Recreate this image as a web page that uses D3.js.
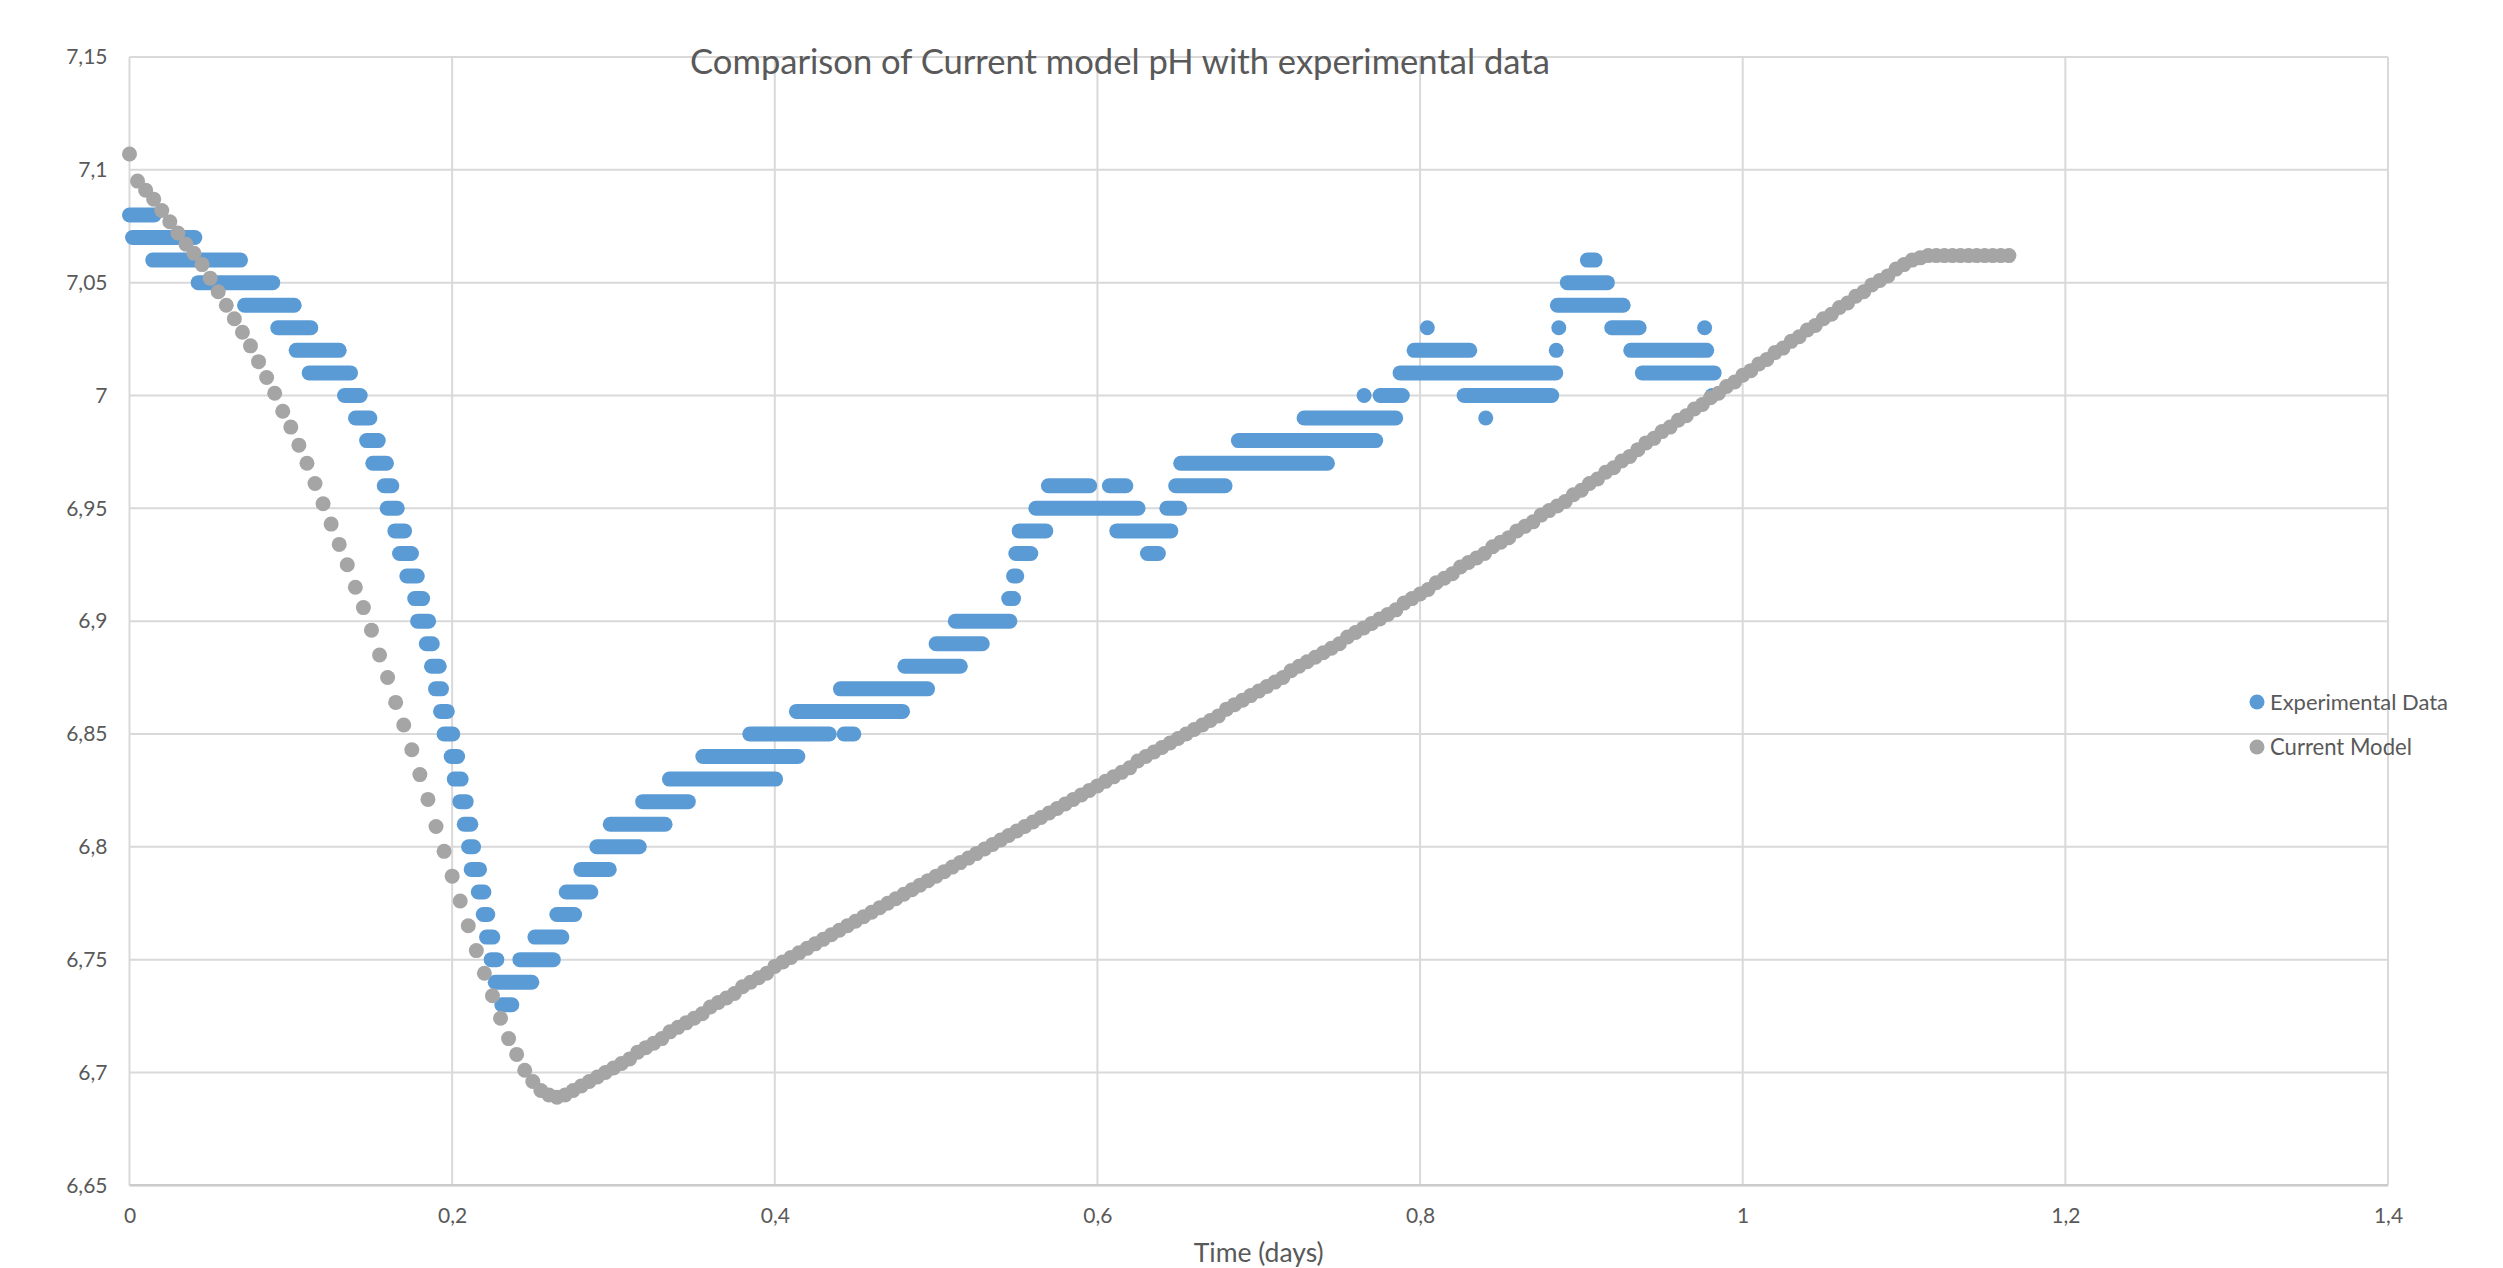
<!DOCTYPE html>
<html>
<head>
<meta charset="utf-8">
<script src="https://cdn.jsdelivr.net/npm/d3@7"></script>
<style>
  body { margin: 0; background: #fff; }
  svg text { font-family: Lato, "Open Sans", sans-serif; fill: #595959; }
</style>
</head>
<body>
<svg id="chart" width="2503" height="1268"></svg>
<script>
const chartTitle = "Comparison of Current model pH with experimental data";
const xAxisTitle = "Time (days)";
const seriesNames = ["Experimental Data", "Current Model"];
const seriesColors = ["#5b9bd5", "#a5a5a5"];

const xTicks = [0, 0.2, 0.4, 0.6, 0.8, 1, 1.2, 1.4];
const xTickLabels = ["0", "0,2", "0,4", "0,6", "0,8", "1", "1,2", "1,4"];
const yTicks = [6.65, 6.7, 6.75, 6.8, 6.85, 6.9, 6.95, 7, 7.05, 7.1, 7.15];
const yTickLabels = ["6,65", "6,7", "6,75", "6,8", "6,85", "6,9", "6,95", "7", "7,05", "7,1", "7,15"];

// probe logs pH in 0.01 steps, so readings pile up in runs: [first t, last t, pH]
const expRuns = [
  [0.0000, 0.0153, 7.08], [0.0019, 0.0405, 7.07], [0.0144, 0.0688, 7.06],
  [0.0426, 0.0888, 7.05], [0.0713, 0.1021, 7.04], [0.0919, 0.1124, 7.03],
  [0.1033, 0.1300, 7.02], [0.1114, 0.1370, 7.01], [0.1333, 0.1430, 7.00],
  [0.1401, 0.1490, 6.99], [0.1470, 0.1542, 6.98], [0.1508, 0.1593, 6.97],
  [0.1579, 0.1626, 6.96], [0.1597, 0.1660, 6.95], [0.1645, 0.1705, 6.94],
  [0.1674, 0.1748, 6.93], [0.1719, 0.1784, 6.92], [0.1768, 0.1817, 6.91],
  [0.1786, 0.1854, 6.90], [0.1840, 0.1877, 6.89], [0.1872, 0.1920, 6.88],
  [0.1897, 0.1934, 6.87], [0.1928, 0.1970, 6.86], [0.1950, 0.2004, 6.85],
  [0.1994, 0.2034, 6.84], [0.2013, 0.2056, 6.83], [0.2048, 0.2087, 6.82],
  [0.2075, 0.2116, 6.81], [0.2102, 0.2133, 6.80], [0.2118, 0.2170, 6.79],
  [0.2162, 0.2197, 6.78], [0.2193, 0.2221, 6.77], [0.2213, 0.2252, 6.76],
  [0.2242, 0.2277, 6.75], [0.2267, 0.2494, 6.74], [0.2308, 0.2370, 6.73],
  // recovery
  [0.2420, 0.2627, 6.75], [0.2513, 0.2680, 6.76], [0.2649, 0.2759, 6.77],
  [0.2707, 0.2860, 6.78], [0.2798, 0.2974, 6.79], [0.2897, 0.3160, 6.80],
  [0.2980, 0.3320, 6.81], [0.3181, 0.3464, 6.82], [0.3347, 0.4005, 6.83],
  [0.3554, 0.4143, 6.84], [0.3845, 0.4338, 6.85], [0.4430, 0.4490, 6.85],
  [0.4134, 0.4792, 6.86], [0.4407, 0.4947, 6.87], [0.4806, 0.5150, 6.88],
  [0.5000, 0.5286, 6.89], [0.5119, 0.5457, 6.90], [0.5450, 0.5480, 6.91],
  [0.5480, 0.5500, 6.92], [0.5494, 0.5587, 6.93], [0.5515, 0.5680, 6.94],
  [0.5618, 0.6252, 6.95], [0.5696, 0.5952, 6.96], [0.6074, 0.6176, 6.96],
  [0.6120, 0.6455, 6.94], [0.6310, 0.6378, 6.93], [0.6430, 0.6510, 6.95],
  [0.6485, 0.6791, 6.96], [0.6516, 0.7426, 6.97], [0.6874, 0.7725, 6.98],
  [0.7281, 0.7849, 6.99], [0.7653, 0.7653, 7.00], [0.7752, 0.7890, 7.00],
  [0.7876, 0.8841, 7.01], [0.7963, 0.8308, 7.02], [0.8045, 0.8045, 7.03],
  [0.8273, 0.8816, 7.00], [0.8407, 0.8407, 6.99], [0.8844, 0.8844, 7.02],
  [0.8860, 0.8860, 7.03], [0.8851, 0.9259, 7.04], [0.8913, 0.9161, 7.05],
  [0.9037, 0.9085, 7.06], [0.9188, 0.9358, 7.03], [0.9306, 0.9777, 7.02],
  [0.9378, 0.9823, 7.01], [0.9764, 0.9764, 7.03], [0.9810, 0.9810, 7.00]
];

// model output, one value every 0.005 days from t = 0
const modelStep = 0.005;
const modelPH = [
  7.107, 7.095, 7.091, 7.087, 7.082, 7.077, 7.072, 7.067, 7.063, 7.058,
  7.052, 7.046, 7.040, 7.034, 7.028, 7.022, 7.015, 7.008, 7.001, 6.993,
  6.986, 6.978, 6.970, 6.961, 6.952, 6.943, 6.934, 6.925, 6.915, 6.906,
  6.896, 6.885, 6.875, 6.864, 6.854, 6.843, 6.832, 6.821, 6.809, 6.798,
  6.787, 6.776, 6.765, 6.754, 6.744, 6.734, 6.724, 6.715, 6.708, 6.701,
  6.696, 6.692, 6.690, 6.689, 6.690, 6.692, 6.694, 6.696, 6.698, 6.700,
  6.702, 6.704, 6.706, 6.709, 6.711, 6.713, 6.715, 6.718, 6.720, 6.722,
  6.724, 6.726, 6.729, 6.731, 6.733, 6.735, 6.738, 6.740, 6.742, 6.744,
  6.747, 6.749, 6.751, 6.753, 6.755, 6.757, 6.759, 6.761, 6.763, 6.765,
  6.767, 6.769, 6.771, 6.773, 6.775, 6.777, 6.779, 6.781, 6.783, 6.785,
  6.787, 6.789, 6.791, 6.793, 6.795, 6.797, 6.799, 6.801, 6.803, 6.805,
  6.807, 6.809, 6.811, 6.813, 6.815, 6.817, 6.819, 6.821, 6.823, 6.825,
  6.827, 6.829, 6.831, 6.833, 6.835, 6.838, 6.840, 6.842, 6.844, 6.846,
  6.848, 6.850, 6.852, 6.854, 6.856, 6.858, 6.861, 6.863, 6.865, 6.867,
  6.869, 6.871, 6.873, 6.875, 6.878, 6.880, 6.882, 6.884, 6.886, 6.888,
  6.890, 6.893, 6.895, 6.897, 6.899, 6.901, 6.903, 6.905, 6.908, 6.910,
  6.912, 6.914, 6.917, 6.919, 6.921, 6.924, 6.926, 6.928, 6.930, 6.933,
  6.935, 6.937, 6.940, 6.942, 6.944, 6.947, 6.949, 6.951, 6.953, 6.956,
  6.958, 6.961, 6.963, 6.966, 6.968, 6.971, 6.973, 6.976, 6.979, 6.981,
  6.984, 6.986, 6.989, 6.991, 6.994, 6.996, 6.999, 7.001, 7.004, 7.006,
  7.009, 7.011, 7.014, 7.016, 7.019, 7.021, 7.024, 7.026, 7.029, 7.031,
  7.034, 7.036, 7.039, 7.041, 7.044, 7.046, 7.049, 7.051, 7.053, 7.056,
  7.058, 7.060, 7.061, 7.062, 7.062, 7.062, 7.062, 7.062, 7.062, 7.062,
  7.062, 7.062, 7.062, 7.062
];

const svg = d3.select("#chart");
const plot = { left: 129.5, right: 2388, top: 57, bottom: 1185.3 };
const r = 7.5;

const x = d3.scaleLinear().domain([0, 1.4]).range([plot.left, plot.right]);
const y = d3.scaleLinear().domain([6.65, 7.15]).range([plot.bottom, plot.top]);

// shrink or grow a text until it spans the given width
function fitWidth(sel, w) {
  const cur = sel.node().getComputedTextLength();
  sel.attr("font-size", parseFloat(sel.attr("font-size")) * w / cur);
}

// gridlines
svg.append("g").selectAll("line").data(yTicks).join("line")
  .attr("x1", plot.left).attr("x2", plot.right)
  .attr("y1", d => y(d)).attr("y2", d => y(d))
  .attr("stroke", "#d9d9d9").attr("stroke-width", 2);
svg.append("g").selectAll("line").data(xTicks).join("line")
  .attr("x1", d => x(d)).attr("x2", d => x(d))
  .attr("y1", plot.top).attr("y2", plot.bottom)
  .attr("stroke", "#d9d9d9").attr("stroke-width", 2);
svg.append("line")
  .attr("x1", plot.left).attr("x2", plot.right)
  .attr("y1", plot.bottom).attr("y2", plot.bottom)
  .attr("stroke", "#cccccc").attr("stroke-width", 2.5);

// axes (labels only)
const yAxis = svg.append("g").attr("transform", `translate(${plot.left},0)`)
  .call(d3.axisLeft(y).tickValues(yTicks).tickSize(0).tickPadding(22)
    .tickFormat((d, i) => yTickLabels[i]));
const xAxis = svg.append("g").attr("transform", `translate(0,${plot.bottom})`)
  .call(d3.axisBottom(x).tickValues(xTicks).tickSize(0).tickPadding(23)
    .tickFormat((d, i) => xTickLabels[i]));
[yAxis, xAxis].forEach(a => {
  a.select(".domain").remove();
  a.selectAll("text").attr("font-size", 21).attr("font-family", null).attr("fill", null);
});

// experimental runs drawn as capsules of overlapping markers
svg.append("g").selectAll("rect").data(expRuns).join("rect")
  .attr("x", d => x(d[0]) - r)
  .attr("y", d => y(d[2]) - r)
  .attr("width", d => x(d[1]) - x(d[0]) + 2 * r)
  .attr("height", 2 * r)
  .attr("rx", r).attr("ry", r)
  .attr("fill", seriesColors[0]);

// model points
svg.append("g").selectAll("circle").data(modelPH).join("circle")
  .attr("cx", (d, i) => x(i * modelStep))
  .attr("cy", d => y(d))
  .attr("r", r)
  .attr("fill", seriesColors[1]);

// title
const title = svg.append("text")
  .attr("x", 1120).attr("y", 74)
  .attr("text-anchor", "middle")
  .attr("font-size", 33)
  .text(chartTitle);
fitWidth(title, 860);

const xTitle = svg.append("text")
  .attr("x", (plot.left + plot.right) / 2).attr("y", 1262)
  .attr("text-anchor", "middle")
  .attr("font-size", 21)
  .text(xAxisTitle);
fitWidth(xTitle, 130);

// legend
const legendY = [702, 747];
const legendW = [178, 142];
const legend = svg.append("g").selectAll("g").data(seriesNames).join("g")
  .attr("transform", (d, i) => `translate(2257,${legendY[i]})`);
legend.append("circle").attr("r", r).attr("fill", (d, i) => seriesColors[i]);
legend.append("text")
  .attr("x", 13).attr("y", 7.5)
  .attr("font-size", 20)
  .text(d => d)
  .each(function (d, i) { fitWidth(d3.select(this), legendW[i]); });
</script>
</body>
</html>
